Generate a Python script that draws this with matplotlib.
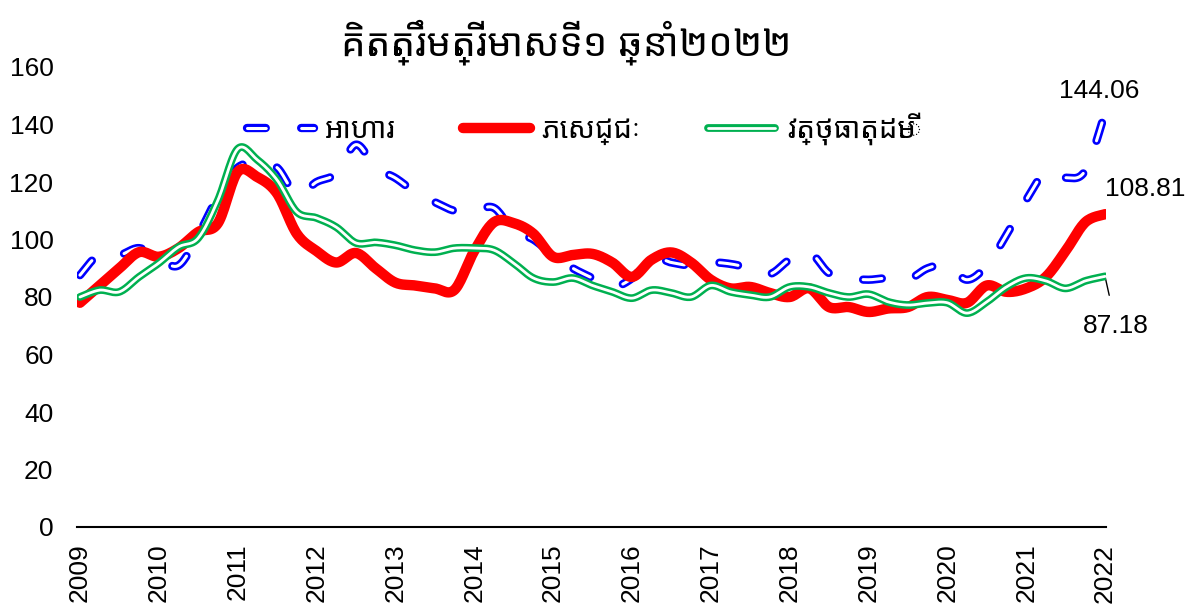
#!/usr/bin/env python3

import numpy as np
import matplotlib
matplotlib.use("Agg")
import matplotlib.pyplot as plt
import matplotlib.patheffects as pe
from matplotlib import font_manager

# quarterly index, 2009Q1 .. 2022Q1
years = list(range(2009, 2023))
food = [87.6, 95, 94.6, 97, 93.5, 91, 101.6, 115, 125, 126.5, 125, 115.5,
        120, 123, 133, 125, 121.4, 116.5, 113, 110, 110, 111, 103, 100,
        94.6, 90, 86.6, 83.5, 86.5, 93.5, 92, 91, 92, 91.5, 90, 88,
        93, 95.6, 88.3, 86.6, 86, 86.6, 86, 90, 91, 86, 91, 101.6,
        113.7, 123.5, 121.5, 124, 144.06]
drinks = [78, 84, 90, 95.6, 94, 97, 102.6, 105.7, 123.5, 121.7, 116, 102,
          96, 92, 95.3, 90, 85, 84, 83, 82.5, 96, 106, 105.7, 102,
          94, 94.6, 95, 92, 87, 93, 95.5, 92, 86, 83, 83.5, 81.4,
          80, 83, 76.5, 76.5, 74.8, 76, 76.5, 80, 79, 78, 84, 81.8,
          83, 87, 96, 106, 108.81]
materials = [80, 82.4, 81.8, 87, 91.8, 97.4, 100.5, 113.7, 131.5, 127.7, 120.7, 109.6,
             107.5, 104.3, 98.8, 99, 98, 96.3, 95.6, 97, 97, 96.3, 91.8, 86.6,
             85.2, 86.6, 84, 81.8, 79.6, 82.4, 81.4, 80, 84, 81.8, 80.7, 80,
             83.5, 83.5, 81.4, 80, 81, 78.3, 77.2, 77.9, 78, 74.4, 78.3, 83.5,
             86.6, 85.6, 83, 85.6, 87.18]

title = "គិតត្រឹមត្រីមាសទី១ ឆ្នាំ២០២២"
labels = ["អាហារ", "ភេសជ្ជៈ", "វត្ថុធាតុដើម"]

# use a Khmer-capable family if the machine happens to have one
installed = {f.name for f in font_manager.fontManager.ttflist}
khmer = [n for n in ["Noto Sans Khmer", "Noto Serif Khmer", "Khmer OS", "Khmer OS System",
                     "Hanuman", "Battambang", "Kantumruy Pro", "Leelawadee UI",
                     "Khmer UI", "DaunPenh"] if n in installed]
narrow = [n for n in ["Liberation Sans Narrow", "Arial Narrow"] if n in installed]
FONT = narrow + ["Liberation Sans"] + khmer + ["DejaVu Sans"]


def smooth(y, n=16):
    # bezier smoothing like a spreadsheet "smoothed line"
    y = np.asarray(y, dtype=float)
    x = np.arange(len(y), dtype=float)
    pts = np.column_stack([x, y])
    ext = np.vstack([pts[0], pts, pts[-1]])
    out = []
    t = np.linspace(0, 1, n, endpoint=False)[:, None]
    for i in range(len(pts) - 1):
        p0, p3 = ext[i + 1], ext[i + 2]
        p1 = p0 + (ext[i + 2] - ext[i]) / 6
        p2 = p3 - (ext[i + 3] - ext[i + 1]) / 6
        seg = ((1 - t) ** 3) * p0 + 3 * ((1 - t) ** 2) * t * p1 \
            + 3 * (1 - t) * t ** 2 * p2 + t ** 3 * p3
        out.append(seg)
    out.append(pts[-1][None, :])
    out = np.vstack(out)
    return out[:, 0], out[:, 1]


def main():
    plt.rcParams["font.family"] = FONT
    plt.rcParams["lines.scale_dashes"] = False
    fs = 21 if narrow else 19

    fig = plt.figure(figsize=(11.91, 6.09), dpi=100)
    ax = fig.add_axes([77 / 1191, 1 - 527 / 609, (1106 - 77) / 1191, (527 - 67) / 609])

    fx, fy = smooth(food)
    ax.plot(fx, fy, color="white", lw=2.2, linestyle=(0, (13.5, 25.5)),
            dash_capstyle="round", label=labels[0], zorder=2,
            path_effects=[pe.Stroke(linewidth=6.0, foreground="#0000FF"), pe.Normal()])

    dx, dy = smooth(drinks)
    ax.plot(dx, dy, color="#FF0000", lw=7.5, solid_capstyle="round",
            label=labels[1], zorder=3)

    mx, my = smooth(materials)
    ax.plot(mx, my, color="white", lw=2.0, solid_capstyle="round",
            label=labels[2], zorder=4,
            path_effects=[pe.Stroke(linewidth=5.6, foreground="#00B050"), pe.Normal()])

    ax.set_xlim(-0.15, len(food) - 1 + 0.05)
    ax.set_ylim(0, 160)
    ax.set_yticks(range(0, 161, 20))
    ax.set_xticks(range(0, len(food), 4))
    ax.set_xticklabels([str(y) for y in years], rotation=90)
    ax.tick_params(axis="both", length=0, labelsize=fs)
    ax.tick_params(axis="y", pad=17)
    ax.tick_params(axis="x", pad=12)

    for s in ["top", "right", "left"]:
        ax.spines[s].set_visible(False)
    ax.spines["bottom"].set_linewidth(1.5)

    last = len(food) - 1
    ax.annotate(f"{food[-1]:.2f}", (last, food[-1]), xytext=(-4, 16),
                textcoords="offset points", ha="center", va="center", fontsize=fs)
    ax.annotate(f"{drinks[-1]:.2f}", (last, drinks[-1]), xytext=(29, 18),
                textcoords="offset points", ha="center", va="center", fontsize=fs)
    ax.annotate(f"{materials[-1]:.2f}", (last, materials[-1]), xytext=(8, -36),
                textcoords="offset points", ha="center", va="center", fontsize=fs,
                arrowprops=dict(arrowstyle="-", color="black", lw=1,
                                shrinkA=12, shrinkB=0))

    ax.legend(loc="center", bbox_to_anchor=(0.49, 0.865), ncol=3, frameon=False,
              fontsize=21, handlelength=2.3, handletextpad=0.4, columnspacing=2.3)

    fig.text(0.475, 0.93, title, ha="center", va="center", fontsize=28,
             fontweight="bold")

    fig.savefig("out.png", dpi=100)


if __name__ == "__main__":
    main()
